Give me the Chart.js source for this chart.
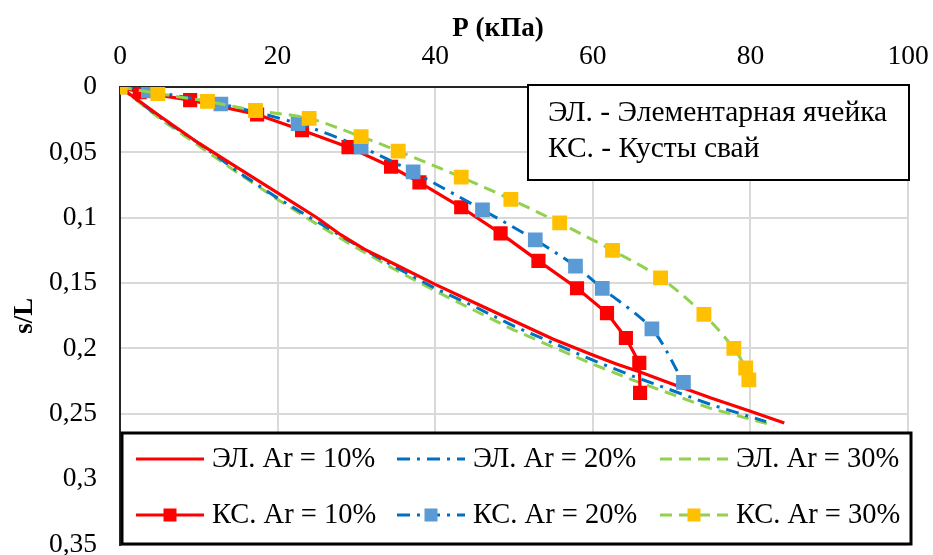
<!DOCTYPE html>
<html lang="ru">
<head>
<meta charset="utf-8">
<title>s/L – P</title>
<script src="https://cdn.jsdelivr.net/npm/chart.js@4.4.1/dist/chart.umd.min.js"></script>
<style>
    html, body { margin: 0; padding: 0; background: #fff; }
    #wrap { width: 933px; height: 555px; position: relative; }
</style>
</head>
<body>
<div id="wrap"><canvas id="settleChart" width="933" height="555"></canvas></div>
<script>
// ---- data ----
const xTicks = [0, 20, 40, 60, 80, 100];
const yTicks = [0, 0.05, 0.1, 0.15, 0.2, 0.25, 0.3, 0.35];

// ЭЛ. - элементарная ячейка (lines only)
const elP10 = [0, 5, 10, 15, 20, 25, 28, 31, 35, 40, 45, 50, 55, 60, 63, 66, 70, 75, 80, 84.3];
const elS10 = [0, 0.022, 0.043, 0.062, 0.081, 0.1, 0.113, 0.124, 0.136, 0.151, 0.165, 0.179, 0.193, 0.205, 0.212, 0.218, 0.227, 0.238, 0.248, 0.257];
const elP20 = [0, 5, 10, 15, 20, 25, 30, 35, 40, 45, 50, 55, 60, 65, 70, 75, 82];
const elS20 = [0, 0.023, 0.043, 0.065, 0.085, 0.103, 0.121, 0.138, 0.154, 0.168, 0.183, 0.196, 0.209, 0.221, 0.232, 0.243, 0.256];
const elP30 = [0, 5, 10, 15, 20, 25, 30, 35, 40, 45, 50, 55, 60, 65, 70, 75, 83];
const elS30 = [0, 0.024, 0.045, 0.066, 0.086, 0.105, 0.123, 0.14, 0.156, 0.171, 0.186, 0.199, 0.212, 0.224, 0.235, 0.246, 0.259];

// КС. - кусты свай (markers)
const ksP10 = [0, 2.5, 8.9, 17.4, 23.1, 29.0, 34.4, 38.0, 43.3, 48.3, 53.1, 58.0, 61.8, 64.2, 65.9, 66.0];
const ksS10 = [0, 0.004, 0.01, 0.021, 0.033, 0.046, 0.061, 0.073, 0.092, 0.112, 0.133, 0.154, 0.173, 0.192, 0.211, 0.234];
const ksP20 = [0, 3.6, 12.8, 22.6, 30.6, 37.2, 46.0, 52.7, 57.8, 61.2, 67.5, 71.5];
const ksS20 = [0, 0.003, 0.013, 0.028, 0.046, 0.065, 0.094, 0.117, 0.137, 0.154, 0.185, 0.226];
const ksP30 = [0, 4.8, 11.1, 17.2, 24.0, 30.6, 35.3, 43.3, 49.6, 55.8, 62.5, 68.6, 74.1, 77.9, 79.4, 79.8];
const ksS30 = [0, 0.005, 0.011, 0.018, 0.024, 0.038, 0.049, 0.069, 0.086, 0.104, 0.125, 0.146, 0.174, 0.2, 0.215, 0.224];

const seriesLabels = ['ЭЛ. Ar = 10%', 'ЭЛ. Ar = 20%', 'ЭЛ. Ar = 30%', 'КС. Ar = 10%', 'КС. Ar = 20%', 'КС. Ar = 30%'];
const noteLines = ['ЭЛ. - Элементарная ячейка', 'КС. - Кусты свай'];
const xTitle = 'P (кПа)';

const SERIF = "'Liberation Serif', 'Times New Roman', serif";

function toPoints(xs, ys) {
    return xs.map((x, i) => ({ x: x, y: ys[i] }));
}

function fmt(v) {
    return String(Math.round(v * 100) / 100).replace('.', ',');
}

// legend, note box and the top title, drawn like in Excel
const boxesPlugin = {
    id: 'boxes',
    afterDraw(chart) {
        const ctx = chart.ctx;
        ctx.save();

        // axis title (sits a bit left of the plot centre in the original)
        ctx.fillStyle = '#000';
        ctx.font = 'bold 27px ' + SERIF;
        ctx.textAlign = 'center';
        ctx.textBaseline = 'middle';
        ctx.fillText(xTitle, 498, 29);

        // note box
        ctx.fillStyle = '#fff';
        ctx.fillRect(528, 85, 381, 95);
        ctx.lineWidth = 2;
        ctx.strokeStyle = '#000';
        ctx.strokeRect(528, 85, 381, 95);
        ctx.fillStyle = '#000';
        ctx.font = '29.5px ' + SERIF;
        ctx.textAlign = 'left';
        ctx.fillText(noteLines[0], 548, 113);
        ctx.fillText(noteLines[1], 548, 149);

        // legend box
        ctx.fillStyle = '#fff';
        ctx.fillRect(122, 433, 789, 111);
        ctx.lineWidth = 3;
        ctx.strokeRect(122, 433, 789, 111);

        const colX = [136, 397, 660];
        const rowY = [459, 515];
        chart.data.datasets.forEach(function(ds, i) {
            const x0 = colX[i % 3];
            const y = rowY[Math.floor(i / 3)];
            ctx.save();
            ctx.strokeStyle = ds.borderColor;
            ctx.lineWidth = ds.borderWidth;
            ctx.setLineDash(ds.borderDash || []);
            ctx.beginPath();
            ctx.moveTo(x0, y);
            ctx.lineTo(x0 + 68, y);
            ctx.stroke();
            ctx.restore();
            if (ds.pointRadius > 0) {
                const half = 6.5;
                ctx.fillStyle = ds.pointBackgroundColor;
                ctx.fillRect(x0 + 34 - half, y - half, half * 2, half * 2);
            }
            ctx.fillStyle = '#000';
            ctx.font = '28.5px ' + SERIF;
            ctx.fillText(ds.label, x0 + 76, y + 1);
        });
        ctx.restore();
    }
};

const ctx = document.getElementById('settleChart');

new Chart(ctx, {
    type: 'scatter',
    data: {
        datasets: [
            {
                label: seriesLabels[0],
                data: toPoints(elP10, elS10),
                showLine: true,
                borderColor: '#FF0000',
                borderWidth: 3.2,
                pointRadius: 0,
                order: 3
            },
            {
                label: seriesLabels[1],
                data: toPoints(elP20, elS20),
                showLine: true,
                borderColor: '#0070C0',
                borderWidth: 3,
                borderDash: [13, 7, 3, 7],
                pointRadius: 0,
                order: 4
            },
            {
                label: seriesLabels[2],
                data: toPoints(elP30, elS30),
                showLine: true,
                borderColor: '#92D050',
                borderWidth: 3,
                borderDash: [12, 7],
                pointRadius: 0,
                order: 5
            },
            {
                label: seriesLabels[3],
                data: toPoints(ksP10, ksS10),
                showLine: true,
                borderColor: '#FF0000',
                borderWidth: 3.2,
                pointStyle: 'rect',
                pointRadius: 10,
                pointBorderWidth: 0,
                pointBackgroundColor: '#FF0000',
                order: 2
            },
            {
                label: seriesLabels[4],
                data: toPoints(ksP20, ksS20),
                showLine: true,
                tension: 0.3,
                borderColor: '#0070C0',
                borderWidth: 3,
                borderDash: [13, 7, 3, 7],
                pointStyle: 'rect',
                pointRadius: 10.4,
                pointBorderWidth: 0,
                pointBackgroundColor: '#5B9BD5',
                order: 1
            },
            {
                label: seriesLabels[5],
                data: toPoints(ksP30, ksS30),
                showLine: true,
                tension: 0.3,
                borderColor: '#92D050',
                borderWidth: 3,
                borderDash: [12, 7],
                pointStyle: 'rect',
                pointRadius: 10.5,
                pointBorderWidth: 0,
                pointBackgroundColor: '#FFC000',
                order: 0
            }
        ]
    },
    options: {
        responsive: false,
        animation: false,
        layout: {
            padding: { left: 0, right: 25, top: 0, bottom: 8 }
        },
        plugins: {
            legend: { display: false },
            tooltip: { enabled: false }
        },
        scales: {
            x: {
                type: 'linear',
                position: 'top',
                min: 0,
                max: 100,
                afterBuildTicks: function(scale) {
                    scale.ticks = xTicks.map(v => ({ value: v }));
                },
                afterFit: function(scale) {
                    scale.height = 87;
                    scale.paddingLeft = 0;
                    scale.paddingRight = 0;
                },
                grid: {
                    color: '#D9D9D9',
                    lineWidth: 2,
                    drawTicks: false
                },
                border: { color: '#262626', width: 2 },
                ticks: {
                    color: '#000',
                    font: { family: SERIF, size: 27.5 },
                    padding: 14,
                    maxRotation: 0,
                    autoSkip: false
                }
            },
            y: {
                type: 'linear',
                reverse: true,
                min: 0,
                max: 0.35,
                afterBuildTicks: function(scale) {
                    scale.ticks = yTicks.map(v => ({ value: v }));
                },
                afterFit: function(scale) {
                    scale.width = 120;
                    scale.paddingTop = 0;
                    scale.paddingBottom = 0;
                },
                grid: {
                    color: '#D9D9D9',
                    lineWidth: 2,
                    drawTicks: false
                },
                border: { color: '#262626', width: 2 },
                ticks: {
                    color: '#000',
                    font: { family: SERIF, size: 27.5 },
                    padding: 23,
                    autoSkip: false,
                    callback: function(value) {
                        return fmt(value);
                    }
                },
                title: {
                    display: true,
                    text: 's/L',
                    color: '#000',
                    font: { family: SERIF, size: 27, weight: 'bold' },
                    padding: { top: 9, bottom: 0 }
                }
            }
        }
    },
    plugins: [boxesPlugin]
});
</script>
</body>
</html>
